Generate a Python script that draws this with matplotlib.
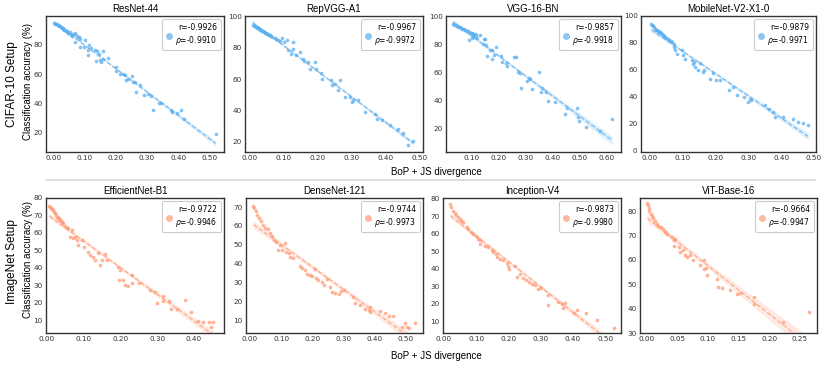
import numpy as np
import matplotlib
matplotlib.use('Agg')
import matplotlib.pyplot as plt
from matplotlib.lines import Line2D
from matplotlib.ticker import MultipleLocator, FormatStrFormatter

# ---- data: (BoP + JS divergence, accuracy %) ----
resnet44 = [(0.003,94.7),(0.006,94.3),(0.009,94.0),(0.011,93.8),(0.014,93.4),(0.016,93.1),
            (0.019,92.8),(0.021,92.4),(0.024,92.0),(0.027,91.5),(0.030,91.2),(0.032,90.9),
            (0.035,90.3),(0.037,89.7),(0.040,89.5),(0.043,89.0),(0.046,88.0),(0.048,87.9),
            (0.053,88.6),(0.056,86.6),(0.060,86.0),(0.064,87.5),(0.069,88.1),(0.074,86.3),
            (0.078,85.5),(0.082,85.2),(0.069,81.8),(0.085,84.1),(0.101,83.4),(0.085,78.4),
            (0.099,78.4),(0.112,76.2),(0.115,79.5),(0.122,78.0),(0.133,76.2),(0.140,75.7),
            (0.112,72.8),(0.137,68.7),(0.145,73.9),(0.149,69.8),(0.154,68.2),(0.159,75.7),
            (0.159,70.5),(0.176,70.9),(0.200,64.8),(0.202,62.1),(0.213,60.3),(0.223,60.3),
            (0.229,59.2),(0.239,56.9),(0.234,56.2),(0.253,58.5),(0.255,54.7),(0.261,54.7),
            (0.277,52.4),(0.266,47.9),(0.289,45.6),(0.303,46.7),(0.314,44.9),(0.319,35.9),
            (0.338,40.0),(0.346,40.0),(0.378,35.4),(0.381,34.3),(0.397,33.2),(0.407,35.4),
            (0.417,29.4),(0.519,19.3)]
repvgg = [(0.010,94.5),(0.013,94.0),(0.016,93.7),(0.019,93.2),(0.022,92.9),(0.025,92.5),
          (0.028,92.0),(0.031,91.7),(0.034,91.3),(0.037,90.9),(0.040,90.6),(0.043,90.2),
          (0.046,89.8),(0.049,89.5),(0.052,89.2),(0.055,88.8),(0.058,88.4),(0.061,88.1),
          (0.064,87.7),(0.067,87.3),(0.075,86.2),(0.080,85.5),(0.085,84.9),(0.090,84.3),
          (0.096,86.6),(0.103,83.8),(0.110,85.3),(0.128,83.8),(0.113,78.5),(0.123,76.4),
          (0.128,79.6),(0.137,75.3),(0.148,77.4),(0.157,73.2),(0.162,71.7),(0.172,71.1),
          (0.177,66.8),(0.192,71.1),(0.197,66.8),(0.211,64.0),(0.214,60.4),(0.241,59.4),
          (0.243,56.2),(0.251,57.2),(0.260,53.4),(0.265,59.8),(0.280,48.7),(0.295,48.7),
          (0.302,45.5),(0.304,47.0),(0.320,46.6),(0.339,39.4),(0.369,38.1),(0.373,34.9),
          (0.388,34.3),(0.413,30.6),(0.437,28.1),(0.451,25.7),(0.464,17.9),(0.481,20.6)]
vgg16 = [(0.030,94.6),(0.035,94.1),(0.040,93.7),(0.045,93.2),(0.050,92.8),(0.055,92.3),
         (0.060,91.9),(0.065,91.4),(0.070,90.9),(0.075,90.5),(0.080,90.0),(0.085,89.6),
         (0.090,89.1),(0.095,88.6),(0.100,88.2),(0.105,87.7),(0.110,87.3),(0.115,86.8),
         (0.090,83.1),(0.100,84.8),(0.105,86.5),(0.109,85.5),(0.120,85.0),(0.130,86.7),
         (0.143,84.3),(0.150,84.3),(0.140,80.7),(0.152,79.5),(0.155,71.6),(0.167,76.4),
         (0.175,75.9),(0.175,69.9),(0.180,72.3),(0.190,78.3),(0.208,71.6),(0.212,67.6),
         (0.227,66.8),(0.230,64.5),(0.254,71.2),(0.263,71.2),(0.272,60.5),(0.279,59.3),
         (0.281,49.0),(0.304,54.0),(0.312,56.4),(0.316,55.0),(0.321,47.9),(0.349,60.5),
         (0.354,46.2),(0.360,48.6),(0.376,46.2),(0.382,39.5),(0.408,39.0),(0.445,30.6),
         (0.451,34.2),(0.490,34.2),(0.492,28.2),(0.496,25.3),(0.523,21.0),(0.573,17.9),
         (0.619,26.5)]
mobilenet = [(0.005,94.4),(0.008,93.5),(0.011,92.4),(0.014,91.5),(0.017,90.6),(0.020,89.8),
             (0.023,89.4),(0.026,88.9),(0.029,88.2),(0.032,87.8),(0.035,87.2),(0.038,86.9),
             (0.041,86.2),(0.044,85.5),(0.047,84.5),(0.050,83.8),(0.055,83.2),(0.060,82.0),
             (0.065,81.5),(0.068,80.7),(0.073,79.5),(0.075,77.0),(0.078,75.0),(0.083,72.1),
             (0.098,74.5),(0.103,70.8),(0.109,68.3),(0.129,67.1),(0.132,64.6),(0.136,65.8),
             (0.139,62.1),(0.146,59.7),(0.154,65.1),(0.162,58.4),(0.166,59.7),(0.184,53.5),
             (0.194,57.7),(0.203,52.3),(0.215,52.3),(0.240,44.8),(0.255,47.3),(0.265,41.1),
             (0.287,39.8),(0.298,36.1),(0.306,38.6),(0.308,37.3),(0.351,33.6),(0.364,31.1),
             (0.376,28.6),(0.381,24.9),(0.407,24.9),(0.437,23.6),(0.452,21.2),(0.467,20.4),
             (0.482,19.4)]
efficientnet = [(0.007,75.2),(0.009,74.8),(0.011,74.2),(0.014,73.6),(0.016,72.9),(0.019,72.0),
                (0.023,71.4),(0.025,70.2),(0.027,69.4),(0.030,68.8),(0.032,68.5),(0.034,67.8),
                (0.036,67.5),(0.039,66.6),(0.041,66.0),(0.045,65.6),(0.050,63.7),(0.055,63.0),
                (0.059,62.7),(0.068,61.8),(0.063,57.9),(0.072,57.0),(0.077,57.9),(0.081,56.0),
                (0.086,53.1),(0.095,56.0),(0.100,52.2),(0.113,49.3),(0.118,47.4),(0.127,46.4),
                (0.131,44.5),(0.140,48.3),(0.145,41.6),(0.149,44.5),(0.158,48.0),(0.163,44.5),
                (0.195,40.7),(0.199,38.8),(0.197,33.0),(0.208,33.0),(0.213,30.1),(0.222,29.5),
                (0.231,31.1),(0.231,35.9),(0.252,31.1),(0.281,27.3),(0.294,26.3),(0.299,20.0),
                (0.315,23.8),(0.317,21.1),(0.333,21.1),(0.339,16.7),(0.355,16.7),(0.375,21.5),
                (0.393,14.6),(0.411,9.6),(0.425,9.0),(0.441,9.0),(0.448,6.1),(0.452,9.0)]
densenet = [(0.011,70.7),(0.014,69.5),(0.019,67.7),(0.023,65.9),(0.030,64.1),(0.034,62.4),
            (0.043,60.6),(0.048,58.8),(0.057,58.4),(0.065,56.2),(0.070,54.4),(0.077,52.6),
            (0.084,51.7),(0.095,50.0),(0.091,47.3),(0.102,47.3),(0.113,50.9),(0.116,46.4),
            (0.124,45.5),(0.129,43.4),(0.138,42.9),(0.161,38.5),(0.167,37.6),(0.178,36.4),
            (0.183,34.6),(0.194,34.1),(0.199,33.2),(0.210,37.1),(0.213,32.3),(0.220,31.4),
            (0.231,30.0),(0.237,28.7),(0.247,31.7),(0.256,27.5),(0.263,25.1),(0.274,24.3),
            (0.285,23.8),(0.292,25.7),(0.301,26.0),(0.333,22.5),(0.339,19.3),(0.355,18.1),
            (0.371,15.7),(0.382,15.4),(0.387,14.5),(0.385,16.9),(0.419,15.1),(0.435,13.7),
            (0.446,12.2),(0.460,12.2),(0.489,6.5),(0.500,8.3),(0.505,6.2),(0.511,5.6),
            (0.532,8.3)]
inception = [(0.020,76.8),(0.023,75.2),(0.028,73.3),(0.033,71.8),(0.038,70.5),(0.043,69.5),
             (0.049,68.6),(0.054,67.6),(0.059,66.7),(0.070,63.8),(0.075,62.9),(0.085,61.0),
             (0.090,60.0),(0.100,59.0),(0.106,57.2),(0.111,56.2),(0.113,54.3),(0.127,53.3),
             (0.137,52.4),(0.148,50.5),(0.153,49.5),(0.161,48.6),(0.165,46.7),(0.174,45.7),
             (0.182,44.8),(0.195,43.3),(0.200,41.4),(0.203,40.0),(0.221,41.4),(0.225,35.6),
             (0.236,37.1),(0.246,34.6),(0.254,33.7),(0.265,32.2),(0.272,31.4),(0.282,30.8),
             (0.291,28.3),(0.300,28.9),(0.322,25.1),(0.322,19.4),(0.355,21.3),(0.365,20.0),
             (0.370,17.5),(0.376,20.4),(0.402,14.8),(0.412,16.7),(0.441,14.8),(0.474,11.0),
             (0.526,6.3)]
vit = [(0.001,83.4),(0.002,82.4),(0.003,81.3),(0.004,80.0),(0.007,78.9),(0.008,78.0),
       (0.011,77.0),(0.014,75.9),(0.016,74.9),(0.019,73.9),(0.023,73.3),(0.027,72.6),
       (0.030,71.3),(0.033,70.7),(0.041,69.3),(0.044,68.3),(0.046,68.7),(0.044,65.6),
       (0.052,65.3),(0.055,63.3),(0.060,64.0),(0.063,62.0),(0.066,61.3),(0.071,62.0),
       (0.075,60.0),(0.087,58.0),(0.093,60.0),(0.094,56.3),(0.097,56.7),(0.098,54.0),
       (0.115,52.3),(0.117,49.0),(0.123,48.6),(0.136,47.6),(0.147,46.0),(0.153,46.4),
       (0.175,44.6),(0.175,41.9),(0.223,34.5),(0.265,38.8)]

names = ['ResNet-44', 'RepVGG-A1', 'VGG-16-BN', 'MobileNet-V2-X1-0',
         'EfficientNet-B1', 'DenseNet-121', 'Inception-V4', 'ViT-Base-16']
series = [resnet44, repvgg, vgg16, mobilenet, efficientnet, densenet, inception, vit]
pearson = ['-0.9926', '-0.9967', '-0.9857', '-0.9879', '-0.9722', '-0.9744', '-0.9873', '-0.9664']
spearman = ['-0.9910', '-0.9972', '-0.9918', '-0.9971', '-0.9946', '-0.9973', '-0.9980', '-0.9947']

xlims = [(-0.023, 0.546), (-0.012, 0.509), (0.004, 0.652), (-0.026, 0.506),
         (-0.002, 0.482), (-0.013, 0.557), (-0.003, 0.549), (-0.011, 0.278)]
ylims = [(7, 99.5), (13.6, 100.4), (3, 100.5), (-1, 100),
         (2.7, 80), (3.2, 74.8), (3.3, 80.5), (30, 85.4)]

# axes boxes in pixels (left, top, right, bottom) on a 830x367 canvas
W, H = 830, 367
boxes = [(46, 16, 224, 152), (245, 16, 423, 152), (446, 16, 621, 152), (641, 16, 816, 152),
         (46, 198, 224, 333), (246, 198, 423, 333), (443, 198, 621, 333), (640, 198, 817, 333)]

blue = '#5AAFF0'
salmon = '#FF9A76'

fig = plt.figure(figsize=(W / 100, H / 100), dpi=100)

for k in range(8):
    l, t, r, b = boxes[k]
    ax = fig.add_axes([l / W, 1 - b / H, (r - l) / W, (b - t) / H])
    col = blue if k < 4 else salmon
    pts = np.array(series[k])
    x, y = pts[:, 0], pts[:, 1]

    # linear fit with 95% band for the mean
    slope, icpt = np.polyfit(x, y, 1)
    xx = np.linspace(x.min(), x.max(), 100)
    yy = slope * xx + icpt
    n = len(x)
    resid = y - (slope * x + icpt)
    s = np.sqrt(np.sum(resid**2) / (n - 2))
    se = s * np.sqrt(1.0 / n + (xx - x.mean())**2 / np.sum((x - x.mean())**2))
    ax.fill_between(xx, yy - 1.98 * se, yy + 1.98 * se, color=col, alpha=0.2, lw=0)
    ax.plot(xx, yy, '--', color=col, lw=0.9, alpha=0.8)
    ax.scatter(x, y, s=7, color=col, alpha=0.75, lw=0)

    ax.set_xlim(xlims[k])
    ax.set_ylim(ylims[k])
    ax.xaxis.set_major_locator(MultipleLocator(0.05 if k == 7 else 0.1))
    ax.xaxis.set_major_formatter(FormatStrFormatter('%.2f'))
    ax.yaxis.set_major_locator(MultipleLocator(20 if k < 4 else 10))
    ax.tick_params(length=0, labelsize=5.2, pad=2.5, colors='#333333')
    for sp in ax.spines.values():
        sp.set_color('#333333')
        sp.set_linewidth(1.0)
    ax.set_title(names[k], fontsize=7, family='Liberation Sans', pad=3)

    h = Line2D([], [], marker='o', ls='', color=col, ms=5, alpha=0.7, mew=0)
    txt = 'r=' + pearson[k] + '\n$\\rho$=' + spearman[k]
    leg = ax.legend([h], [txt], loc='upper right', fontsize=5.5, handlelength=0.8,
                    handletextpad=0.4, borderpad=0.5, borderaxespad=0.4,
                    fancybox=True, framealpha=1)
    leg.get_frame().set_edgecolor('#cccccc')
    leg.get_frame().set_linewidth(0.8)
    for tx in leg.get_texts():
        tx.set_multialignment('right')

# row labels
for yc, setup in [(84, 'CIFAR-10 Setup'), (262, 'ImageNet Setup')]:
    fig.text(12 / W, 1 - yc / H, setup, rotation=90, fontsize=8.5,
             family='Liberation Sans', ha='center', va='center')
    fig.text(28 / W, 1 - (yc - 3) / H, 'Classification accuracy (%)', rotation=90, fontsize=7,
             family='Liberation Sans', ha='center', va='center')

for yc in [172, 356]:
    fig.text(436 / W, 1 - yc / H, 'BoP + JS divergence', fontsize=7,
             family='Liberation Sans', ha='center', va='center')

# separator between the two setups
fig.add_artist(Line2D([47 / W, 815 / W], [1 - 180 / H, 1 - 180 / H],
                      color='#dddddd', lw=1.5, transform=fig.transFigure))

fig.savefig('out.png', dpi=100, facecolor='white')
